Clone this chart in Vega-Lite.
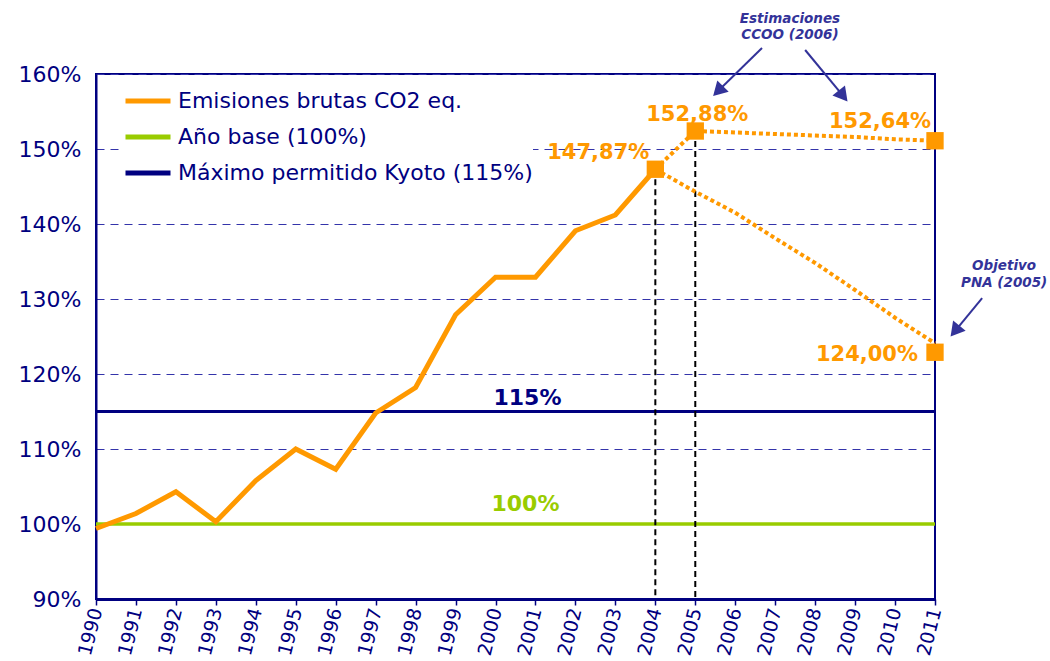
{
  "$schema": "https://vega.github.io/schema/vega-lite/v6.json",
  "width": 839,
  "height": 525,
  "autosize": {"type": "none"},
  "padding": {"left": 96, "top": 74, "right": 115, "bottom": 62},
  "background": "white",
  "config": {"font": "DejaVu Sans", "view": {"stroke": "#000080", "strokeWidth": 2}},
  "datasets": {
    "vlines": [{"year": 2004, "v": 147.3}, {"year": 2005, "v": 152.4}],
    "hist": [
      {"year": 1990, "v": 99.4, "serie": "Emisiones brutas CO2 eq."},
      {"year": 1991, "v": 101.4, "serie": "Emisiones brutas CO2 eq."},
      {"year": 1992, "v": 104.3, "serie": "Emisiones brutas CO2 eq."},
      {"year": 1993, "v": 100.3, "serie": "Emisiones brutas CO2 eq."},
      {"year": 1994, "v": 105.8, "serie": "Emisiones brutas CO2 eq."},
      {"year": 1995, "v": 110.0, "serie": "Emisiones brutas CO2 eq."},
      {"year": 1996, "v": 107.3, "serie": "Emisiones brutas CO2 eq."},
      {"year": 1997, "v": 114.8, "serie": "Emisiones brutas CO2 eq."},
      {"year": 1998, "v": 118.2, "serie": "Emisiones brutas CO2 eq."},
      {"year": 1999, "v": 127.9, "serie": "Emisiones brutas CO2 eq."},
      {"year": 2000, "v": 132.9, "serie": "Emisiones brutas CO2 eq."},
      {"year": 2001, "v": 132.9, "serie": "Emisiones brutas CO2 eq."},
      {"year": 2002, "v": 139.1, "serie": "Emisiones brutas CO2 eq."},
      {"year": 2003, "v": 141.2, "serie": "Emisiones brutas CO2 eq."},
      {"year": 2004, "v": 147.3, "serie": "Emisiones brutas CO2 eq."}
    ],
    "base": [
      {"year": 1990, "v": 100, "serie": "Año base (100%)"},
      {"year": 2011, "v": 100, "serie": "Año base (100%)"}
    ],
    "kyoto": [
      {"year": 1990, "v": 115, "serie": "Máximo permitido Kyoto (115%)"},
      {"year": 2011, "v": 115, "serie": "Máximo permitido Kyoto (115%)"}
    ],
    "proj": [
      {"year": 2004, "v": 147.3, "tramo": "CCOO"},
      {"year": 2005, "v": 152.4, "tramo": "CCOO"},
      {"year": 2006, "v": 152.2, "tramo": "CCOO"},
      {"year": 2007, "v": 152.0, "tramo": "CCOO"},
      {"year": 2008, "v": 151.8, "tramo": "CCOO"},
      {"year": 2009, "v": 151.6, "tramo": "CCOO"},
      {"year": 2010, "v": 151.3, "tramo": "CCOO"},
      {"year": 2011, "v": 151.1, "tramo": "CCOO"},
      {"year": 2004, "v": 147.3, "tramo": "PNA"},
      {"year": 2005, "v": 144.3, "tramo": "PNA"},
      {"year": 2006, "v": 141.5, "tramo": "PNA"},
      {"year": 2007, "v": 138.1, "tramo": "PNA"},
      {"year": 2008, "v": 134.8, "tramo": "PNA"},
      {"year": 2009, "v": 131.2, "tramo": "PNA"},
      {"year": 2010, "v": 127.5, "tramo": "PNA"},
      {"year": 2011, "v": 124.1, "tramo": "PNA"}
    ],
    "markers": [
      {"year": 2004, "v": 147.3},
      {"year": 2005, "v": 152.4},
      {"year": 2011, "v": 151.1},
      {"year": 2011, "v": 122.9}
    ]
  },
  "layer": [
    {
      "data": {"name": "base"},
      "mark": {"type": "line", "strokeWidth": 3.5},
      "encoding": {
        "x": {"field": "year", "type": "quantitative", "title": null,
          "scale": {"domain": [1990, 2011], "nice": false, "zero": false},
          "axis": {"tickCount": 21,
            "format": "d", "labelAngle": -76, "labelAlign": "right", "labelBaseline": "middle",
            "labelFontSize": 19, "labelColor": "#000080", "labelPadding": 3, "labelOverlap": false, "labelFlush": false,
            "tickColor": "#000080", "tickSize": 6, "tickWidth": 1.5,
            "domainColor": "#000080", "domainWidth": 3, "grid": false, "title": null}},
        "y": {"field": "v", "type": "quantitative", "title": null,
          "scale": {"domain": [90, 160], "nice": false, "zero": false},
          "axis": {"tickCount": 7, "labelExpr": "datum.value + '%'",
            "labelFontSize": 22, "labelColor": "#000080", "labelPadding": 15, "labelFlush": false,
            "ticks": false, "domainColor": "#000080", "domainWidth": 2,
            "grid": true, "gridColor": "#3333AA", "gridDash": [8, 6], "gridWidth": 1, "title": null}},
        "color": {"field": "serie", "type": "nominal",
          "scale": {"domain": ["Emisiones brutas CO2 eq.", "Año base (100%)", "Máximo permitido Kyoto (115%)"],
            "range": ["#FF9900", "#99CC00", "#000080"]},
          "legend": {"orient": "none", "legendX": 27, "legendY": 2, "title": null,
            "symbolType": "stroke", "symbolSize": 2025, "symbolStrokeWidth": 5,
            "labelFontSize": 22, "labelColor": "#000080", "labelOffset": 5, "labelLimit": 600,
            "rowPadding": -10, "fillColor": "white", "padding": 0}}
      }
    },
    {
      "data": {"name": "kyoto"},
      "mark": {"type": "line", "strokeWidth": 3},
      "encoding": {
        "x": {"field": "year", "type": "quantitative", "title": null},
        "y": {"field": "v", "type": "quantitative", "title": null},
        "color": {"field": "serie", "type": "nominal"}
      }
    },
    {
      "data": {"name": "vlines"},
      "mark": {"type": "rule", "color": "black", "strokeWidth": 2, "strokeDash": [6, 4]},
      "encoding": {
        "x": {"field": "year", "type": "quantitative", "title": null},
        "y": {"field": "v", "type": "quantitative", "title": null},
        "y2": {"datum": 90}
      }
    },
    {
      "data": {"name": "proj"},
      "mark": {"type": "line", "strokeWidth": 4, "strokeDash": [4, 3], "color": "#FF9900"},
      "encoding": {
        "x": {"field": "year", "type": "quantitative", "title": null},
        "y": {"field": "v", "type": "quantitative", "title": null},
        "detail": {"field": "tramo"}
      }
    },
    {
      "data": {"name": "hist"},
      "mark": {"type": "line", "strokeWidth": 5},
      "encoding": {
        "x": {"field": "year", "type": "quantitative", "title": null},
        "y": {"field": "v", "type": "quantitative", "title": null},
        "color": {"field": "serie", "type": "nominal"}
      }
    },
    {
      "data": {"name": "markers"},
      "mark": {"type": "point", "shape": "square", "size": 300, "filled": true, "color": "#FF9900", "opacity": 1},
      "encoding": {
        "x": {"field": "year", "type": "quantitative", "title": null},
        "y": {"field": "v", "type": "quantitative", "title": null}
      }
    },
    {
      "data": {"values": [{"year": 2004, "v": 147.3, "t": "147,87%"}]},
      "mark": {"type": "text", "align": "right", "dx": -6, "dy": -16, "fontSize": 21, "fontWeight": "bold", "color": "#FF9900"},
      "encoding": {
        "x": {"field": "year", "type": "quantitative", "title": null},
        "y": {"field": "v", "type": "quantitative", "title": null},
        "text": {"field": "t"}
      }
    },
    {
      "data": {"values": [{"year": 2005, "v": 152.4, "t": "152,88%"}]},
      "mark": {"type": "text", "align": "center", "dx": 2, "dy": -16, "fontSize": 21, "fontWeight": "bold", "color": "#FF9900"},
      "encoding": {
        "x": {"field": "year", "type": "quantitative", "title": null},
        "y": {"field": "v", "type": "quantitative", "title": null},
        "text": {"field": "t"}
      }
    },
    {
      "data": {"values": [{"year": 2011, "v": 151.1, "t": "152,64%"}]},
      "mark": {"type": "text", "align": "center", "dx": -55, "dy": -19, "fontSize": 21, "fontWeight": "bold", "color": "#FF9900"},
      "encoding": {
        "x": {"field": "year", "type": "quantitative", "title": null},
        "y": {"field": "v", "type": "quantitative", "title": null},
        "text": {"field": "t"}
      }
    },
    {
      "data": {"values": [{"year": 2011, "v": 122.9, "t": "124,00%"}]},
      "mark": {"type": "text", "align": "right", "dx": -17, "dy": 3, "fontSize": 21, "fontWeight": "bold", "color": "#FF9900"},
      "encoding": {
        "x": {"field": "year", "type": "quantitative", "title": null},
        "y": {"field": "v", "type": "quantitative", "title": null},
        "text": {"field": "t"}
      }
    },
    {
      "data": {"values": [{"year": 2000.8, "v": 115, "t": "115%"}]},
      "mark": {"type": "text", "align": "center", "dy": -14, "fontSize": 22, "fontWeight": "bold", "color": "#000080"},
      "encoding": {
        "x": {"field": "year", "type": "quantitative", "title": null},
        "y": {"field": "v", "type": "quantitative", "title": null},
        "text": {"field": "t"}
      }
    },
    {
      "data": {"values": [{"year": 2000.75, "v": 100, "t": "100%"}]},
      "mark": {"type": "text", "align": "center", "dy": -20, "fontSize": 22, "fontWeight": "bold", "color": "#99CC00"},
      "encoding": {
        "x": {"field": "year", "type": "quantitative", "title": null},
        "y": {"field": "v", "type": "quantitative", "title": null},
        "text": {"field": "t"}
      }
    },
    {
      "data": {"values": [
        {"year": 2007.37, "v": 167.4, "t": "Estimaciones"},
        {"year": 2007.37, "v": 165.2, "t": "CCOO (2006)"},
        {"year": 2012.73, "v": 134.4, "t": "Objetivo"},
        {"year": 2012.73, "v": 132.2, "t": "PNA (2005)"}
      ]},
      "mark": {"type": "text", "align": "center", "fontSize": 13.5, "fontWeight": "bold", "fontStyle": "italic", "color": "#333399"},
      "encoding": {
        "x": {"field": "year", "type": "quantitative", "title": null},
        "y": {"field": "v", "type": "quantitative", "title": null},
        "text": {"field": "t"}
      }
    },
    {
      "data": {"values": [
        {"x1": 2006.67, "y1": 163.47, "x2": 2005.57, "y2": 157.73},
        {"x1": 2007.75, "y1": 163.2, "x2": 2008.7, "y2": 157.07},
        {"x1": 2012.18, "y1": 130.13, "x2": 2011.5, "y2": 125.73}
      ]},
      "mark": {"type": "rule", "color": "#333399", "strokeWidth": 2},
      "encoding": {
        "x": {"field": "x1", "type": "quantitative", "title": null},
        "y": {"field": "y1", "type": "quantitative", "title": null},
        "x2": {"field": "x2"},
        "y2": {"field": "y2"}
      }
    },
    {
      "data": {"values": [{"x": 2005.57, "y": 157.73}]},
      "mark": {"type": "point", "shape": "triangle-up", "size": 260, "filled": true, "color": "#333399", "opacity": 1, "angle": 225},
      "encoding": {
        "x": {"field": "x", "type": "quantitative", "title": null},
        "y": {"field": "y", "type": "quantitative", "title": null}
      }
    },
    {
      "data": {"values": [{"x": 2008.7, "y": 157.07}]},
      "mark": {"type": "point", "shape": "triangle-up", "size": 260, "filled": true, "color": "#333399", "opacity": 1, "angle": 141},
      "encoding": {
        "x": {"field": "x", "type": "quantitative", "title": null},
        "y": {"field": "y", "type": "quantitative", "title": null}
      }
    },
    {
      "data": {"values": [{"x": 2011.5, "y": 125.73}]},
      "mark": {"type": "point", "shape": "triangle-up", "size": 260, "filled": true, "color": "#333399", "opacity": 1, "angle": 219},
      "encoding": {
        "x": {"field": "x", "type": "quantitative", "title": null},
        "y": {"field": "y", "type": "quantitative", "title": null}
      }
    }
  ]
}
